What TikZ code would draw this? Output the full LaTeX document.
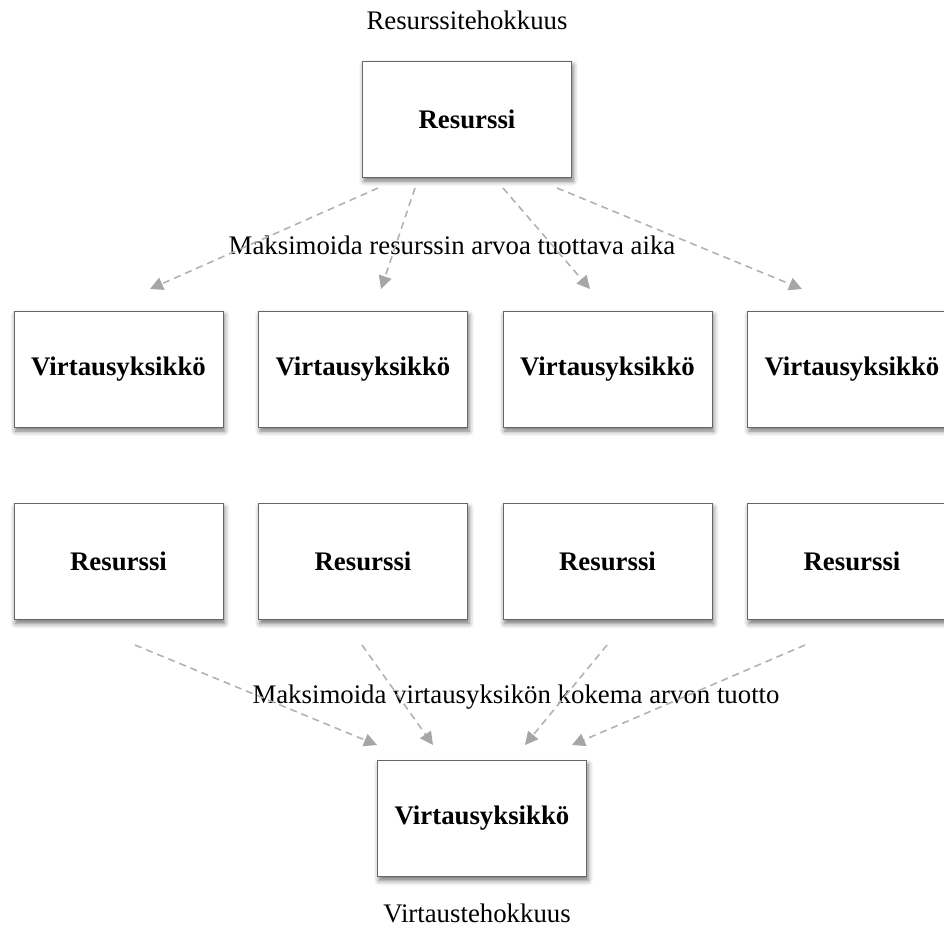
\documentclass[tikz,border=0pt]{standalone}
\usepackage{fontspec}
\setmainfont{Liberation Serif}
\usetikzlibrary{arrows.meta,shadows.blur}
\tikzset{
  box/.style={draw=black!60, line width=1pt, fill=white, minimum width=209pt, minimum height=116pt,
    inner sep=0pt, font=\fontsize{26.8}{30}\selectfont\bfseries,
    blur shadow={shadow xshift=1.5pt, shadow yshift=-4pt, shadow blur radius=5pt, shadow opacity=55}},
  lbl/.style={font=\fontsize{26.8}{30}\selectfont, inner sep=0pt},
  flow/.style={draw=black!30, line width=1.6pt, dash pattern=on 7pt off 5pt,
    -{Triangle[length=13pt,width=13pt,color=black!35,fill=black!35]}}
}
\begin{document}
\begin{tikzpicture}[x=1pt,y=-1pt]
\useasboundingbox (0,0) rectangle (944,935);
% texts
\node[lbl] (t1) at (467,20) {Resurssitehokkuus};
\node[lbl] (t2) at (452,245) {Maksimoida resurssin arvoa tuottava aika};
\node[lbl] (t3) at (516,697) {Maksimoida virtausyksikön kokema arvon tuotto};
\node[lbl] (t4) at (477,913) {Virtaustehokkuus};
% boxes
\node[box] (top) at (467,119) {Resurssi};
\node[box] (v1) at (118.5,369) {Virtausyksikkö};
\node[box] (v2) at (363,369) {Virtausyksikkö};
\node[box] (v3) at (607.5,369) {Virtausyksikkö};
\node[box] (v4) at (852,369) {Virtausyksikkö};
\node[box] (r1) at (118.5,561.5) {Resurssi};
\node[box] (r2) at (363,561.5) {Resurssi};
\node[box] (r3) at (607.5,561.5) {Resurssi};
\node[box] (r4) at (852,561.5) {Resurssi};
\node[box] (bot) at (482,818.5) {Virtausyksikkö};
% connector end points
\coordinate (s1) at (378,188); \coordinate (e1) at (150,289);
\coordinate (s2) at (415,188); \coordinate (e2) at (381,289);
\coordinate (s3) at (503,188); \coordinate (e3) at (590,289);
\coordinate (s4) at (557,188); \coordinate (e4) at (802,289);
\coordinate (b1) at (135,645); \coordinate (f1) at (377,745);
\coordinate (b2) at (362,645); \coordinate (f2) at (433,745);
\coordinate (b3) at (607,645); \coordinate (f3) at (525,745);
\coordinate (b4) at (805,645); \coordinate (f4) at (572,745);
\foreach \i in {1,2,3,4}{
  \draw[flow] (s\i) -- (e\i);
  \draw[flow] (b\i) -- (f\i);
}
\end{tikzpicture}
\end{document}
